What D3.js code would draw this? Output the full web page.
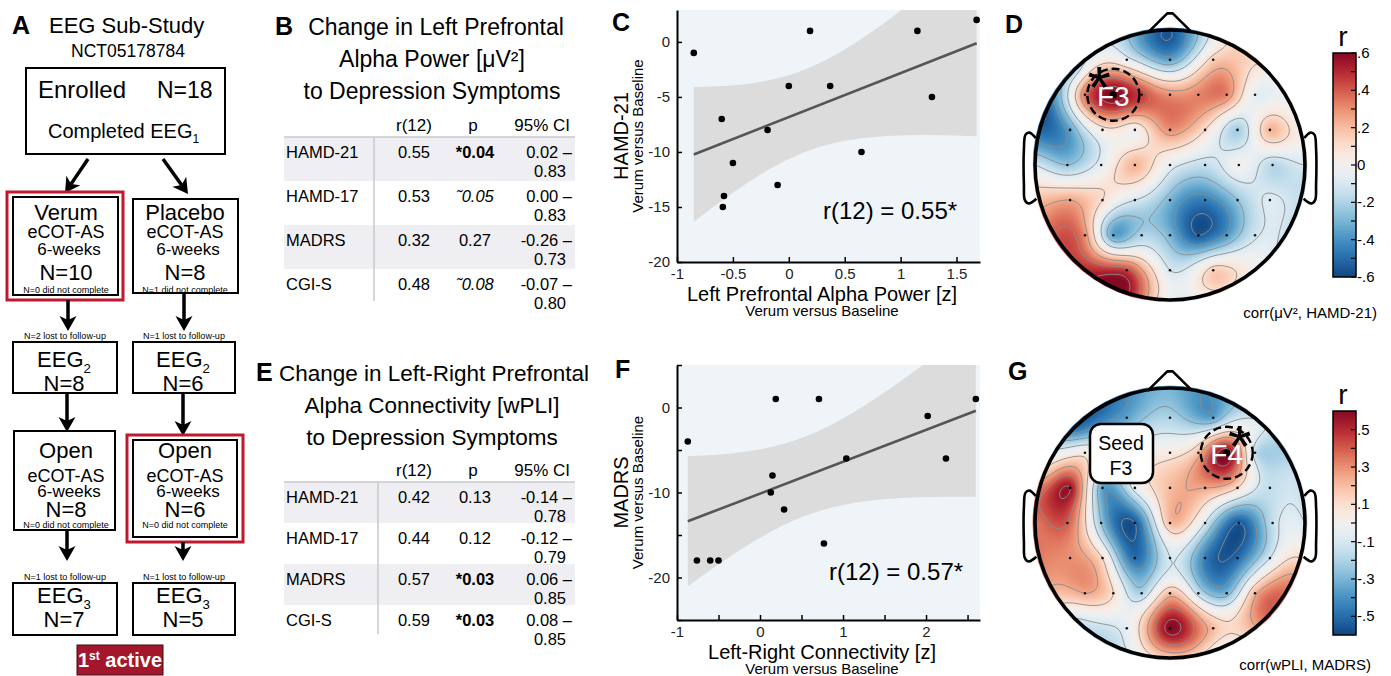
<!DOCTYPE html>
<html>
<head>
<meta charset="utf-8">
<script src="https://cdn.jsdelivr.net/npm/d3@7"></script>
<style>
  body { margin: 0; background: #fff; }
  svg text { font-family: "Liberation Sans", Arial, Helvetica, sans-serif; }
</style>
</head>
<body>
<svg id="fig" width="1391" height="676"></svg>
<script>
// ---------- data ----------
var enrolledN = 18
var armNames = ["Verum", "Placebo"]
var blindN = [10, 8]
var blindDrop = [0, 1]
var lostAfterBlind = [2, 1]
var eeg2N = [8, 6]
var openN = [8, 6]
var openDrop = [0, 0]
var lostAfterOpen = [1, 1]
var eeg3N = [7, 5]

var measures = ["HAMD-21", "HAMD-17", "MADRS", "CGI-S"]
var powerR = [0.55, 0.53, 0.32, 0.48]
var powerP = [0.04, 0.05, 0.27, 0.08]
var powerLo = [0.02, 0.00, -0.26, -0.07]
var powerHi = [0.83, 0.83, 0.73, 0.80]
var connR = [0.42, 0.44, 0.57, 0.59]
var connP = [0.13, 0.12, 0.03, 0.03]
var connLo = [-0.14, -0.12, 0.06, 0.08]
var connHi = [0.78, 0.79, 0.85, 0.85]

// change scores, verum vs baseline (n = 14)
var powerZ = [-0.85, -0.6, -0.58, -0.59, -0.5, -0.19, -0.1, 0, 0.19, 0.37, 0.65, 1.15, 1.28, 1.68]
var hamdChange = [-1, -7, -14, -15, -11, -8, -13, -4, 1, -4, -10, 1, -5, 2]
var connZ = [-0.87, -0.76, -0.6, -0.5, 0.13, 0.15, 0.19, 0.29, 0.71, 0.77, 1.04, 2.02, 2.24, 2.6]
var madrsChange = [-4, -18, -18, -18, -10, -8, 1, -12, 1, -16, -6, -1, -6, 1]

// electrode layout in head units (nose up, rim = 1)
var rowV = [-0.78, -0.52, -0.26, 0, 0.26, 0.52, 0.78]
var rowU = [
  [-0.32, 0, 0.32],
  [-0.63, -0.42, -0.21, 0, 0.21, 0.42, 0.63],
  [-0.74, -0.5, -0.26, 0, 0.26, 0.5, 0.74],
  [-0.76, -0.51, -0.26, 0, 0.26, 0.51, 0.76],
  [-0.74, -0.5, -0.26, 0, 0.26, 0.5, 0.74],
  [-0.63, -0.42, -0.21, 0, 0.21, 0.42, 0.63],
  [-0.32, 0, 0.32]
]
var rimAngle = [0, 22.5, 45, 67.5, 90, 112.5, 135, 157.5, 180, 202.5, 225, 247.5, 270, 292.5, 315, 337.5]

// r per electrode: corr(uV^2, HAMD-21)
var powerRows = [
  [-0.05, -0.35, 0.15],
  [0.35, 0.62, 0.45, 0.3, 0.32, 0.32, -0.05],
  [-0.35, 0.05, 0.0, 0.3, 0.1, -0.22, 0.22],
  [-0.25, -0.05, 0.22, -0.05, -0.15, 0.0, -0.18],
  [0.25, 0.1, -0.1, -0.3, -0.45, -0.25, -0.08],
  [0.3, -0.35, -0.2, -0.3, -0.55, -0.38, -0.12],
  [0.45, -0.1, 0.15]
]
var powerRim = [-0.55, 0.05, 0.05, 0.0, -0.1, -0.15, -0.05, 0.1, -0.05, 0.65, 0.45, 0.3, -0.1, -0.55, -0.2, -0.15]

// r per electrode: corr(wPLI seed F3, MADRS)
var wpliRows = [
  [-0.35, -0.2, -0.35],
  [0.05, -0.1, 0.0, 0.05, 0.2, 0.62, -0.15],
  [0.55, -0.35, -0.05, 0.2, 0.25, 0.1, -0.15],
  [0.4, -0.25, -0.55, 0.2, -0.1, -0.55, -0.15],
  [0.3, 0.1, -0.5, -0.1, -0.45, -0.5, -0.1],
  [0.25, 0.1, -0.2, 0.2, -0.15, -0.3, 0.22],
  [-0.05, 0.6, 0.2]
]
var wpliRim = [-0.3, -0.35, -0.1, -0.15, -0.1, 0.25, 0.35, 0.0, 0.15, -0.15, -0.1, 0.3, 0.35, 0.15, -0.5, -0.45]

// ---------- helpers ----------
var svg = d3.select("#fig")
var defs = svg.append("defs")
var boxRed = "#c0192f"

function label(x, y, s, size, anchor, weight) {
  return svg.append("text").attr("x", x).attr("y", y).attr("font-size", size)
    .attr("text-anchor", anchor || "start").attr("font-weight", weight || "normal").text(s)
}

function box(x, y, w, h, color, sw) {
  return svg.append("rect").attr("x", x).attr("y", y).attr("width", w).attr("height", h)
    .attr("fill", "none").attr("stroke", color || "#000").attr("stroke-width", sw || 2)
}

function arrow(x1, y1, x2, y2) {
  var a = Math.atan2(y2 - y1, x2 - x1), hl = 15, hw = 8.5
  var bx = x2 - hl * Math.cos(a), by = y2 - hl * Math.sin(a)
  var nx = x2 - (hl - 4) * Math.cos(a), ny = y2 - (hl - 4) * Math.sin(a)
  svg.append("line").attr("x1", x1).attr("y1", y1).attr("x2", nx).attr("y2", ny)
    .attr("stroke", "#000").attr("stroke-width", 3.5)
  svg.append("path").attr("fill", "#000")
    .attr("d", "M" + x2 + "," + y2 +
      "L" + (bx + hw * Math.sin(a)) + "," + (by - hw * Math.cos(a)) +
      "L" + nx + "," + ny +
      "L" + (bx - hw * Math.sin(a)) + "," + (by + hw * Math.cos(a)) + "Z")
}

function withSub(x, y, main, sub, size, anchor) {
  var t = label(x, y, main, size, anchor)
  t.append("tspan").attr("font-size", size * 0.6).attr("dy", size * 0.25).text(sub)
  return t
}

// ---------- A: flow chart ----------
label(12, 34, "A", 25, "start", "bold")
label(49, 33, "EEG Sub-Study", 22)
label(128, 57, "NCT05178784", 17.5, "middle")

box(26, 68, 199, 86)
label(38, 98, "Enrolled", 24)
label(157, 98, "N=" + enrolledN, 23)
withSub(48, 138, "Completed EEG", "1", 20)

arrow(88, 159, 65, 193)
arrow(163, 159, 188, 194)

var colX = [66, 185]
var colArrow = [68, 184]

// blinded phase
box(7, 192, 116, 108, boxRed, 3)
box(13, 197, 105, 98)
box(133, 199, 105, 94)
armNames.forEach(function(name, i) {
  label(colX[i], 220, name, 22, "middle")
  label(colX[i], 238, "eCOT-AS", 18, "middle")
  label(colX[i] + 3, 255, "6-weeks", 17, "middle")
  label(colX[i], 280, "N=" + blindN[i], 22, "middle")
  label(colX[i], 293, "N=" + blindDrop[i] + " did not complete", 9, "middle")
  label(colX[i] - 1, 339, "N=" + lostAfterBlind[i] + " lost to follow-up", 9, "middle")
})
arrow(colArrow[0], 300, colArrow[0], 331)
arrow(colArrow[1], 293, colArrow[1], 331)

// EEG2
box(13, 342, 104, 51)
box(133, 342, 102, 51)
eeg2N.forEach(function(n, i) {
  withSub(colX[i] - 2, 367, "EEG", "2", 22, "middle")
  label(colX[i] - 2, 391, "N=" + n, 22, "middle")
})
arrow(67, 393, 67, 432)
arrow(183, 393, 183, 436)

// open label phase
box(14, 431, 101, 99)
box(127, 435, 116, 107, boxRed, 3)
box(133, 440, 104, 97)
openN.forEach(function(n, i) {
  label(colX[i], 458, "Open", 22, "middle")
  label(colX[i], 482, "eCOT-AS", 18, "middle")
  label(colX[i] + 3, 497, "6-weeks", 17, "middle")
  label(colX[i], 517, "N=" + n, 22, "middle")
  label(colX[i], 528, "N=" + openDrop[i] + " did not complete", 9, "middle")
  label(colX[i] - 1, 580, "N=" + lostAfterOpen[i] + " lost to follow-up", 9, "middle")
})
arrow(67, 530, 67, 561)
arrow(183, 542, 183, 561)

// EEG3
box(13, 583, 104, 52)
box(133, 583, 102, 52)
eeg3N.forEach(function(n, i) {
  withSub(colX[i] - 2, 603, "EEG", "3", 22, "middle")
  label(colX[i] - 2, 627, "N=" + n, 22, "middle")
})

svg.append("rect").attr("x", 77).attr("y", 645).attr("width", 86).attr("height", 30)
  .attr("fill", "#a3162b").attr("stroke", "#3a0a10").attr("stroke-width", 1)
var act = label(120, 667, "1", 20, "middle", "bold").attr("fill", "#fff")
act.append("tspan").attr("font-size", 12).attr("dy", -7).text("st")
act.append("tspan").attr("dy", 7).text(" active")

// ---------- B / E: tables ----------
function pCell(p) {
  if (p < 0.05) return { s: "*" + p.toFixed(2), w: "bold", st: "normal" }
  if (p < 0.1) return { s: "\u02DC" + p.toFixed(2), w: "normal", st: "italic" }
  return { s: p.toFixed(2), w: "normal", st: "normal" }
}

function statTable(o) {
  var g = svg.append("g")
  measures.forEach(function(m, i) {
    var top = o.rule + i * o.pitch
    if (i % 2 === 0) {
      g.append("rect").attr("x", 284).attr("y", top).attr("width", 291).attr("height", o.pitch)
        .attr("fill", "#efeff3")
    }
  })
  g.append("line").attr("x1", 284).attr("x2", 575).attr("y1", o.rule).attr("y2", o.rule)
    .attr("stroke", "#c8c8cc").attr("stroke-width", 1.5)
  g.append("line").attr("x1", o.vline).attr("x2", o.vline).attr("y1", o.rule).attr("y2", o.rule + 4 * o.pitch - 12)
    .attr("stroke", "#c8c8cc").attr("stroke-width", 1.5)

  label(414, o.rule - 6, "r(12)", 17, "middle")
  label(473, o.rule - 6, "p", 17, "middle")
  label(570, o.rule - 6, "95% CI", 17, "end")

  measures.forEach(function(m, i) {
    var b = o.rule + 21 + i * o.pitch
    label(286, b, m, 16.5)
    label(414, b, o.r[i].toFixed(2), 16.5, "middle")
    var pc = pCell(o.p[i])
    label(475, b, pc.s, 16.5, "middle", pc.w).attr("font-style", pc.st)
    label(572, b, o.lo[i].toFixed(2) + " \u2013", 16.5, "end")
    label(566, b + o.line2, o.hi[i].toFixed(2), 16.5, "end")
  })
}

label(275, 35, "B", 25, "start", "bold")
label(436, 35, "Change in Left Prefrontal", 23, "middle")
label(432, 67, "Alpha Power [\u03BCV\u00B2]", 23, "middle")
label(432, 99, "to Depression Symptoms", 23, "middle")
statTable({ rule: 137, pitch: 44, line2: 19, vline: 374, r: powerR, p: powerP, lo: powerLo, hi: powerHi })

label(256, 381, "E", 25, "start", "bold")
label(434, 381, "Change in Left-Right Prefrontal", 22.5, "middle")
label(432, 413, "Alpha Connectivity [wPLI]", 22.5, "middle")
label(432, 445, "to Depression Symptoms", 22.5, "middle")
statTable({ rule: 482, pitch: 41, line2: 19, vline: 378, r: connR, p: connP, lo: connLo, hi: connHi })

// ---------- C / F: scatter plots ----------
function scatterPanel(o) {
  var x = d3.scaleLinear().domain(o.xDomain).range([677, 980])
  var y = d3.scaleLinear().domain(o.yDomain).range([o.bottom, o.top])
  var g = svg.append("g")
  var clipId = "clip" + o.key
  defs.append("clipPath").attr("id", clipId).append("rect")
    .attr("x", 677).attr("y", o.top).attr("width", 303).attr("height", o.bottom - o.top)

  g.append("rect").attr("x", 677).attr("y", o.top).attr("width", 303).attr("height", o.bottom - o.top)
    .attr("fill", "#eef4f8")

  // least squares fit with simultaneous (Working-Hotelling) 95% band
  var n = o.xs.length
  var mx = d3.mean(o.xs), my = d3.mean(o.ys)
  var sxx = d3.sum(o.xs, function(d) { return (d - mx) * (d - mx) })
  var sxy = d3.sum(o.xs, function(d, i) { return (d - mx) * (o.ys[i] - my) })
  var slope = sxy / sxx, icpt = my - slope * mx
  var sse = d3.sum(o.xs, function(d, i) { var e = o.ys[i] - icpt - slope * d; return e * e })
  var s = Math.sqrt(sse / (n - 2))
  var wh = Math.sqrt(2 * 3.885)
  var x0 = d3.min(o.xs), x1 = d3.max(o.xs)
  var band = d3.range(0, 101).map(function(k) {
    var gx = x0 + (x1 - x0) * k / 100
    var fit = icpt + slope * gx
    var se = s * Math.sqrt(1 / n + (gx - mx) * (gx - mx) / sxx)
    return { x: gx, lo: fit - wh * se, hi: fit + wh * se }
  })
  g.append("path").datum(band).attr("clip-path", "url(#" + clipId + ")")
    .attr("fill", "#dcdcdc")
    .attr("d", d3.area().x(function(d) { return x(d.x) })
      .y0(function(d) { return y(d.lo) }).y1(function(d) { return y(d.hi) }))
  g.append("line").attr("x1", x(x0)).attr("y1", y(icpt + slope * x0))
    .attr("x2", x(x1)).attr("y2", y(icpt + slope * x1))
    .attr("stroke", "#555").attr("stroke-width", 2.6)

  g.selectAll(".dot").data(o.xs).enter().append("circle")
    .attr("cx", function(d) { return x(d) })
    .attr("cy", function(d, i) { return y(o.ys[i]) })
    .attr("r", 3.3).attr("fill", "#000")

  var xAxis = g.append("g").attr("transform", "translate(0," + o.bottom + ")")
    .call(d3.axisBottom(x).tickValues(o.xTicks).tickSize(-5).tickSizeOuter(0).tickPadding(6)
      .tickFormat(o.xFormat))
  var yAxis = g.append("g").attr("transform", "translate(677,0)")
    .call(d3.axisLeft(y).tickValues(o.yTicks).tickSize(-5).tickSizeOuter(0).tickPadding(7)
      .tickFormat(o.yFormat))
  ;[xAxis, yAxis].forEach(function(ax) {
    ax.attr("font-family", null).attr("font-size", 15)
    ax.select(".domain").attr("stroke", "#000").attr("stroke-width", 2)
    ax.selectAll(".tick line").attr("stroke", "#000").attr("stroke-width", 1.5)
    ax.selectAll(".tick text").attr("fill", "#222")
  })

  label(o.statX, o.statY, o.stat, 24)
  label(822, o.bottom + 39, o.xTitle, 20, "middle")
  label(822, o.bottom + 54, "Verum versus Baseline", 15, "middle")
  var cy = (o.top + o.bottom) / 2
  label(0, 0, o.yTitle, 20, "middle").attr("transform", "translate(628," + cy + ") rotate(-90)")
  label(0, 0, "Verum versus Baseline", 15, "middle").attr("transform", "translate(643," + cy + ") rotate(-90)")
}

label(612, 31, "C", 25, "start", "bold")
scatterPanel({
  key: "C", xs: powerZ, ys: hamdChange, xDomain: [-1, 1.71], yDomain: [-20, 2.9], top: 10, bottom: 262,
  xTicks: [-1, -0.5, 0, 0.5, 1, 1.5], yTicks: [0, -5, -10, -15, -20],
  xFormat: String, yFormat: String,
  xTitle: "Left Prefrontal Alpha Power [z]", yTitle: "HAMD-21",
  stat: "r(12) = 0.55*", statX: 823, statY: 219
})

label(615, 378, "F", 25, "start", "bold")
scatterPanel({
  key: "F", xs: connZ, ys: madrsChange, xDomain: [-1, 2.65], yDomain: [-25, 5], top: 365, bottom: 620,
  xTicks: [-1, -0.5, 0, 0.5, 1, 1.5, 2, 2.5], yTicks: [5, 0, -5, -10, -15, -20, -25],
  xFormat: function(d) { return Number.isInteger(d) ? String(d) : "" },
  yFormat: function(d) { return d % 10 === 0 && d > -25 && d < 5 ? String(d) : "" },
  xTitle: "Left-Right Connectivity [z]", yTitle: "MADRS",
  stat: "r(12) = 0.57*", statX: 829, statY: 580
})

// ---------- D / G: scalp maps ----------
var rColor = d3.scaleLinear().domain([-0.6, 0.6]).range([0.96, 0.04]).clamp(true)
function colorOf(v) { return d3.interpolateRdBu(rColor(v)) }

function green(r) { return r === 0 ? 0 : r * r * (Math.log(r) - 1) }

// biharmonic spline (as in griddata 'v4')
function splineWeights(px, py, vals) {
  var n = px.length
  var A = px.map(function(_, i) {
    return px.map(function(_, j) { return green(Math.hypot(px[i] - px[j], py[i] - py[j])) })
  })
  var b = vals.slice()
  for (var k = 0; k < n; k++) {
    var piv = k
    for (var r = k + 1; r < n; r++) if (Math.abs(A[r][k]) > Math.abs(A[piv][k])) piv = r
    var t = A[k]; A[k] = A[piv]; A[piv] = t
    var tb = b[k]; b[k] = b[piv]; b[piv] = tb
    for (r = k + 1; r < n; r++) {
      var f = A[r][k] / A[k][k]
      for (var c = k; c < n; c++) A[r][c] -= f * A[k][c]
      b[r] -= f * b[k]
    }
  }
  var w = new Array(n)
  for (k = n - 1; k >= 0; k--) {
    var s = b[k]
    for (c = k + 1; c < n; c++) s -= A[k][c] * w[c]
    w[k] = s / A[k][k]
  }
  return w
}

function topoPanel(o) {
  var R = 135, ext = 1.1
  var hx = d3.scaleLinear().domain([-1, 1]).range([o.cx - R, o.cx + R])
  var hy = d3.scaleLinear().domain([-1, 1]).range([o.cy - R, o.cy + R])

  var eu = [], ev = [], ez = [], inner = []
  rowU.forEach(function(us, ri) {
    us.forEach(function(u, ci) { eu.push(u); ev.push(rowV[ri]); ez.push(o.rows[ri][ci]); inner.push(true) })
  })
  rimAngle.forEach(function(a, i) {
    var t = a * Math.PI / 180
    eu.push(Math.sin(t)); ev.push(-Math.cos(t)); ez.push(o.rim[i]); inner.push(false)
  })
  var w = splineWeights(eu, ev, ez)

  var n = Math.round(2 * ext * R), step = 2 * ext / n
  var grid = new Float64Array(n * n)
  var canvas = document.createElement("canvas")
  canvas.width = n; canvas.height = n
  var ctx = canvas.getContext("2d")
  var img = ctx.createImageData(n, n)
  for (var j = 0; j < n; j++) {
    var v = -ext + (j + 0.5) * step
    for (var i = 0; i < n; i++) {
      var u = -ext + (i + 0.5) * step
      var z = 0
      for (var k = 0; k < eu.length; k++) z += w[k] * green(Math.hypot(u - eu[k], v - ev[k]))
      grid[j * n + i] = z
      if (u * u + v * v <= 1.06) {
        var col = d3.rgb(colorOf(z)), p = 4 * (j * n + i)
        img.data[p] = col.r; img.data[p + 1] = col.g; img.data[p + 2] = col.b; img.data[p + 3] = 255
      }
    }
  }
  ctx.putImageData(img, 0, 0)

  var clipId = "head" + o.key
  defs.append("clipPath").attr("id", clipId).append("circle").attr("cx", o.cx).attr("cy", o.cy).attr("r", R + 2.5)
  var g = svg.append("g")
  g.append("image").attr("x", hx(-ext)).attr("y", hy(-ext)).attr("width", n).attr("height", n)
    .attr("preserveAspectRatio", "none").attr("clip-path", "url(#" + clipId + ")")
    .attr("href", canvas.toDataURL())

  var innerClip = "headIn" + o.key
  defs.append("clipPath").attr("id", innerClip).append("circle").attr("cx", o.cx).attr("cy", o.cy).attr("r", R)
  var contours = d3.contours().size([n, n]).thresholds(o.levels)(Array.from(grid))
  var toPx = d3.geoPath(d3.geoIdentity().scale(step * R).translate([hx(-ext), hy(-ext)]))
  g.append("g").attr("clip-path", "url(#" + innerClip + ")").selectAll("path").data(contours).enter()
    .append("path").attr("d", toPx).attr("fill", "none").attr("stroke", "#8c8c8c").attr("stroke-width", 0.9)

  // head outline
  var line = d3.line().x(function(d) { return hx(d[0]) }).y(function(d) { return hy(d[1]) })
  g.append("path").attr("d", line([[-0.155, -0.99], [-0.02, -1.123], [0.02, -1.123], [0.155, -0.99]]))
    .attr("fill", "none").attr("stroke", "#000").attr("stroke-width", 2.6).attr("stroke-linejoin", "round")
  var ear = [[-0.995, -0.2], [-1.04, -0.24], [-1.07, -0.225], [-1.082, -0.12], [-1.082, 0.15],
    [-1.075, 0.26], [-1.045, 0.285], [-0.99, 0.25]]
  var earLine = line.curve(d3.curveCatmullRom)
  g.append("path").attr("d", earLine(ear)).attr("fill", "none").attr("stroke", "#000").attr("stroke-width", 2.6)
  g.append("path").attr("d", earLine(ear.map(function(d) { return [-d[0], d[1]] })))
    .attr("fill", "none").attr("stroke", "#000").attr("stroke-width", 2.6)

  g.selectAll(".el").data(eu.filter(function(d, i) { return inner[i] })).enter().append("circle")
    .attr("cx", function(d) { return hx(d) })
    .attr("cy", function(d, i) { return hy(ev[i]) })
    .attr("r", 1.3).attr("fill", "#111")

  g.append("circle").attr("cx", o.cx).attr("cy", o.cy).attr("r", R)
    .attr("fill", "none").attr("stroke", "#000").attr("stroke-width", 3.6)

  // highlighted electrode
  var mx = hx(o.mark[0]), my = hy(o.mark[1])
  g.append("circle").attr("cx", mx).attr("cy", my).attr("r", 26)
    .attr("fill", "none").attr("stroke", "#000").attr("stroke-width", 2.4).attr("stroke-dasharray", "8,4")
  label(mx, my + 11, o.markName, 28, "middle").attr("fill", "#fff")
  g.append("circle").attr("cx", mx).attr("cy", my).attr("r", 3.6).attr("fill", "#000")
  label(mx + o.starDx, my + o.starDy + 34, "*", 60, "middle")

  // colour bar
  var cb = d3.scaleLinear().domain([-0.6, 0.6]).range([o.cy + 112, o.cy - 112])
  var gradId = "grad" + o.key
  var grad = defs.append("linearGradient").attr("id", gradId).attr("x1", 0).attr("x2", 0).attr("y1", 1).attr("y2", 0)
  d3.range(0, 21).forEach(function(k) {
    grad.append("stop").attr("offset", k / 20).attr("stop-color", colorOf(-0.6 + 1.2 * k / 20))
  })
  svg.append("rect").attr("x", 1333).attr("y", cb(0.6)).attr("width", 23).attr("height", cb(-0.6) - cb(0.6))
    .attr("fill", "url(#" + gradId + ")").attr("stroke", "#000").attr("stroke-width", 1.5)
  o.cbTicks.forEach(function(t) {
    svg.append("line").attr("x1", 1351).attr("x2", 1356).attr("y1", cb(t)).attr("y2", cb(t))
      .attr("stroke", "#000").attr("stroke-width", 1.2)
  })
  o.cbLabels.forEach(function(t) {
    var s = t === 0 ? "0" : (t < 0 ? "-" : "") + Math.abs(t).toFixed(1).replace(/^0/, "")
    label(1357, cb(t) + 5, s, 15)
  })
  label(1343, cb(0.6) - 7, "r", 28, "middle")
  label(o.capX, o.capY, o.caption, 15, "end")
}

label(1005, 33, "D", 25, "start", "bold")
topoPanel({
  key: "D", cx: 1170, cy: 165, rows: powerRows, rim: powerRim,
  levels: [-0.55, -0.4, -0.25, -0.1, 0.1, 0.25, 0.4, 0.55],
  mark: [-0.42, -0.52], markName: "F3", starDx: -14, starDy: -21,
  cbTicks: [-0.6, -0.5, -0.4, -0.3, -0.2, -0.1, 0, 0.1, 0.2, 0.3, 0.4, 0.5, 0.6],
  cbLabels: [-0.6, -0.4, -0.2, 0, 0.2, 0.4, 0.6],
  caption: "corr(\u03BCV\u00B2, HAMD-21)", capX: 1377, capY: 318
})

label(1008, 380, "G", 25, "start", "bold")
topoPanel({
  key: "G", cx: 1170, cy: 523, rows: wpliRows, rim: wpliRim,
  levels: [-0.55, -0.4, -0.25, -0.1, 0.1, 0.25, 0.4, 0.55],
  mark: [0.42, -0.52], markName: "F4", starDx: 13, starDy: -20,
  cbTicks: [-0.5, -0.4, -0.3, -0.2, -0.1, 0, 0.1, 0.2, 0.3, 0.4, 0.5],
  cbLabels: [-0.5, -0.3, -0.1, 0.1, 0.3, 0.5],
  caption: "corr(wPLI, MADRS)", capX: 1371, capY: 670
})

// seed label on G
svg.append("rect").attr("x", 1090).attr("y", 424).attr("width", 63).attr("height", 59).attr("rx", 11)
  .attr("fill", "#fff").attr("stroke", "#000").attr("stroke-width", 2.5)
label(1121, 450, "Seed", 19.5, "middle")
label(1121, 475, "F3", 19.5, "middle")
</script>
</body>
</html>
